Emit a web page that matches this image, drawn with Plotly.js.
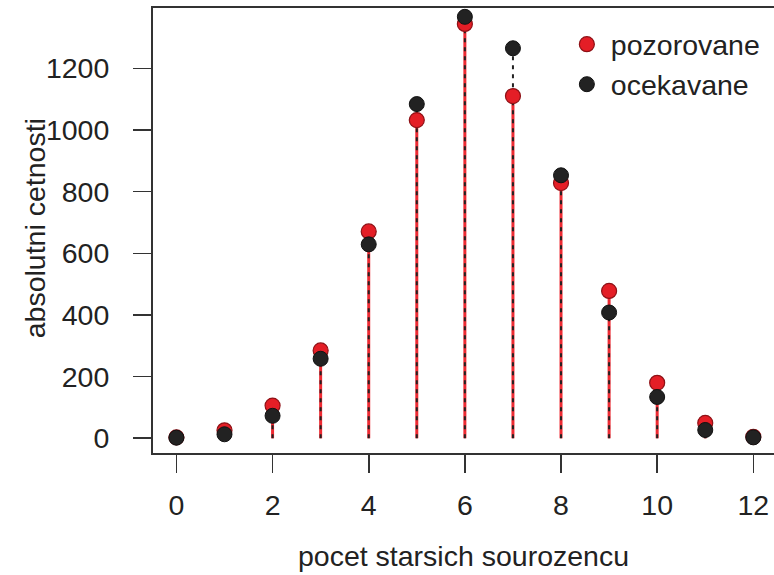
<!DOCTYPE html>
<html>
<head>
<meta charset="utf-8">
<script src="https://cdn.plot.ly/plotly-3.0.1.min.js"></script>
<style>html,body{margin:0;padding:0;background:#fff;}#chart{width:774px;height:575px;}</style>
</head>
<body>
<div id="chart"></div>
<script>
var categories = [0, 1, 2, 3, 4, 5, 6, 7, 8, 9, 10, 11, 12];
var observed = [3, 26, 106, 285, 671, 1032, 1344, 1110, 828, 478, 180, 50, 5];
var expected = [2, 13, 73, 258, 629, 1084, 1367, 1265, 853, 408, 134, 27, 3];
var xTicks = [0, 2, 4, 6, 8, 10, 12];
var yTicks = [0, 200, 400, 600, 800, 1000, 1200];
var seriesNames = ["pozorovane", "ocekavane"];
var xTitle = "pocet starsich sourozencu";
var yTitle = "absolutni cetnosti";

function stems(xs, vs) {
  var sx = [], sy = [];
  xs.forEach(function (x, i) { sx.push(x, x, null); sy.push(0, vs[i], null); });
  return {x: sx, y: sy};
}
var sObs = stems(categories, observed);
var sExp = stems(categories, expected);
var FONT = '"Liberation Sans", Arial, Helvetica, sans-serif';
var FS = 28.5;

var data = [
  {x: sObs.x, y: sObs.y, mode: 'lines', line: {color: '#ee2a32', width: 3}, showlegend: false, hoverinfo: 'skip'},
  {x: sExp.x, y: sExp.y, mode: 'lines', line: {color: '#222222', width: 2, dash: '4px,5px'}, showlegend: false, hoverinfo: 'skip'},
  {x: categories, y: observed, mode: 'markers', name: seriesNames[0],
   marker: {color: '#e41e26', size: 15, line: {color: '#8e1116', width: 1.2}}},
  {x: categories, y: expected, mode: 'markers', name: seriesNames[1],
   marker: {color: '#222222', size: 15, line: {color: '#111111', width: 1}}}
];

var layout = {
  width: 774, height: 575,
  margin: {l: 153, r: 0, t: 8, b: 122},
  paper_bgcolor: '#ffffff', plot_bgcolor: '#ffffff',
  font: {family: FONT, size: FS, color: '#222222'},
  showlegend: true,
  legend: {x: 0.66, y: 0.975, xanchor: 'left', yanchor: 'top', bgcolor: 'rgba(0,0,0,0)',
           font: {family: FONT, size: FS, color: '#222222'}, tracegroupgap: 0, itemwidth: 38},
  xaxis: {
    range: [-0.487, 12.43], tickvals: xTicks, ticktext: xTicks.map(String),
    showgrid: false, zeroline: false, showline: true, mirror: true, linecolor: '#333333', linewidth: 2,
    ticks: 'outside', ticklen: 18, tickwidth: 1.6, tickcolor: '#333333',
    ticklabelstandoff: 8,
    tickfont: {family: FONT, size: FS, color: '#222222'},
    title: {text: xTitle, font: {family: FONT, size: FS, color: '#222222'}, standoff: 26}
  },
  yaxis: {
    range: [-47.7, 1395.6], tickvals: yTicks, ticktext: yTicks.map(String),
    showgrid: false, zeroline: false, showline: true, mirror: false, linecolor: '#333333', linewidth: 2,
    ticks: 'outside', ticklen: 18, tickwidth: 1.6, tickcolor: '#333333',
    ticklabelstandoff: 18,
    tickfont: {family: FONT, size: FS, color: '#222222'}
  },
  annotations: [{
    text: yTitle, xref: 'paper', yref: 'paper', x: -0.19, y: 0.505,
    xanchor: 'center', yanchor: 'middle', textangle: -90, showarrow: false,
    font: {family: FONT, size: FS, color: '#222222'}
  }]
};

Plotly.newPlot('chart', data, layout, {displayModeBar: false, staticPlot: true});
</script>
</body>
</html>
